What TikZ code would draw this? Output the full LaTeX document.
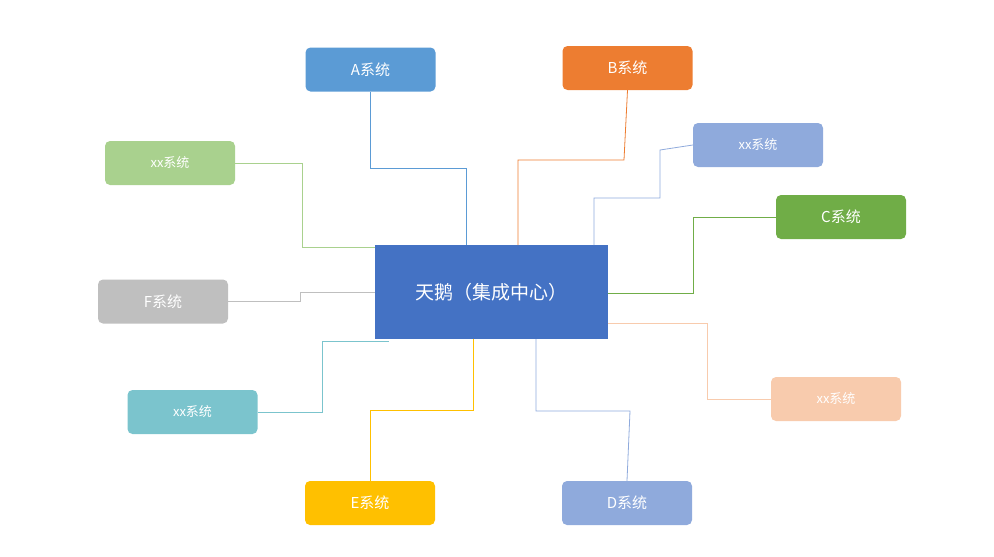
\documentclass[tikz,border=0pt]{standalone}
\usepackage{fontspec}
\setmainfont{Noto Sans CJK SC}
\usetikzlibrary{positioning}
\definecolor{hub}{HTML}{4472C4}
\definecolor{cA}{HTML}{5B9BD5}
\definecolor{cB}{HTML}{ED7D31}
\definecolor{cC}{HTML}{70AD47}
\definecolor{cD}{HTML}{8FAADC}
\definecolor{cE}{HTML}{FFC000}
\definecolor{cF}{HTML}{BFBFBF}
\definecolor{cG}{HTML}{A9D18E}
\definecolor{cH}{HTML}{7BC4CD}
\definecolor{cI}{HTML}{F8CBAD}
\tikzstyle{every picture}+=[x=1pt,y=-1pt]
\tikzstyle{sys}=[rounded corners=5pt,minimum width=130pt,minimum height=44pt,text=white,font=\fontsize{15}{15}\selectfont,inner sep=0pt]
\tikzstyle{xsys}+=[sys,font=\fontsize{13}{13}\selectfont]
\tikzstyle{link}=[line width=0.8pt]
\begin{document}
\begin{tikzpicture}
\useasboundingbox (0,0) rectangle (994,557);
\node[fill=hub,minimum width=233pt,minimum height=94pt,text=white,font=\fontsize{19}{19}\selectfont] (hub) at (491.5,292) {天鹅（集成中心）};

\node[sys,fill=cA] (a) at (370.5,69.5) {A系统};
\node[sys,fill=cB] (b) at (627.5,68) {B系统};
\node[xsys,fill=cD] (x1) at (758,145) {xx系统};
\node[sys,fill=cC] (c) at (841,217) {C系统};
\node[xsys,fill=cG] (x2) at (170,163) {xx系统};
\node[sys,fill=cF] (f) at (163,301.5) {F系统};
\node[xsys,fill=cH] (x3) at (192.5,412) {xx系统};
\node[sys,fill=cE] (e) at (370,503) {E系统};
\node[sys,fill=cD] (d) at (627,503) {D系统};
\node[xsys,fill=cI] (x4) at (836,399) {xx系统};

% connectors
\draw[link,cA] (a.south) -- (370.5,168) -- (466,168) -- (466,245);
\draw[link,cB] (b.south) -- (624,160) -- (518,160) -- (518,245);
\draw[link,cD] (x1.west) -- (660,150) -- (660,198) -- (594,198) -- (594,245);
\draw[link,cC] (c.west) -- (693,217) -- (693,293) -- (hub.east |- 0,293);
\draw[link,cG] (x2.east) -- (302,163) -- (302,247) -- (hub.west |- 0,247);
\draw[link,cF] (f.east) -- (300,301.5) -- (300,292) -- (hub.west);
\draw[link,cH] (x3.east) -- (322,412) -- (322,341) -- (389,341);
\draw[link,cE] (e.north) -- (370,410) -- (473,410) -- (473,339);
\draw[link,cD] (d.north) -- (630,411) -- (536,411) -- (536,339);
\draw[link,cI] (x4.west) -- (707,399) -- (707,323) -- (hub.east |- 0,323);
\end{tikzpicture}
\end{document}
